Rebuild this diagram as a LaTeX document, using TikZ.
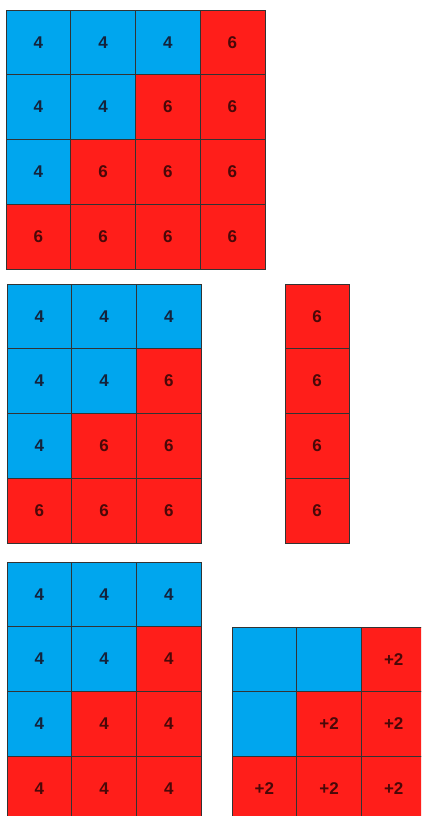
\documentclass[tikz,border=0pt]{standalone}
\usepackage{fontspec}
\setsansfont{Liberation Sans}
\usepackage{tikz}
\definecolor{tileblue}{HTML}{00A6EE}
\definecolor{tilered}{HTML}{FF1E1A}
\definecolor{numblue}{HTML}{14233C}
\definecolor{numred}{HTML}{4A0808}
\tikzset{
  cell/.style={draw=black!80,line width=0.6pt,minimum size=64.7pt,inner sep=0pt,
    font=\sffamily\bfseries\fontsize{17}{17}\selectfont},
  bluecell/.style={cell,fill=tileblue,text=numblue},
  redcell/.style={cell,fill=tilered,text=numred}
}

\begin{document}
\begin{tikzpicture}[x=1pt,y=-1pt]
\path[use as bounding box,clip] (0,0) rectangle (421,816);
% full 4x4 grid
\foreach \r in {0,...,3}{
  \foreach \c in {0,...,3}{
    \ifnum\numexpr\r+\c\relax<3 \def\cellsty{bluecell}\def\lab{4}\else\def\cellsty{redcell}\def\lab{6}\fi
    \node[\cellsty] (top-\r-\c) at ({6+64.7*(\c+0.5)},{10+64.7*(\r+0.5)}) {\lab};
  }
}
% split off the last column
\foreach \r in {0,...,3}{
  \foreach \c in {0,...,2}{
    \ifnum\numexpr\r+\c\relax<3 \def\cellsty{bluecell}\def\lab{4}\else\def\cellsty{redcell}\def\lab{6}\fi
    \node[\cellsty] (mid-\r-\c) at ({7+64.7*(\c+0.5)},{284+64.7*(\r+0.5)}) {\lab};
  }
  \node[redcell,minimum width=64pt] (col-\r) at (317,{284+64.7*(\r+0.5)}) {6};
}
% base of 4 plus the +2 part
\foreach \r in {0,...,3}{
  \foreach \c in {0,...,2}{
    \ifnum\numexpr\r+\c\relax<3 \def\cellsty{bluecell}\else\def\cellsty{redcell}\fi
    \node[\cellsty] (low-\r-\c) at ({7+64.7*(\c+0.5)},{562+64.7*(\r+0.5)}) {4};
  }
}
\foreach \r in {0,...,2}{
  \foreach \c in {0,...,2}{
    \ifnum\numexpr\r+\c\relax<2 \def\cellsty{bluecell}\def\lab{}\else\def\cellsty{redcell}\def\lab{+2}\fi
    \node[\cellsty] (plus-\r-\c) at ({232+64.7*(\c+0.5)},{627+64.7*(\r+0.5)}) {\lab};
  }
}
\end{tikzpicture}
\end{document}
